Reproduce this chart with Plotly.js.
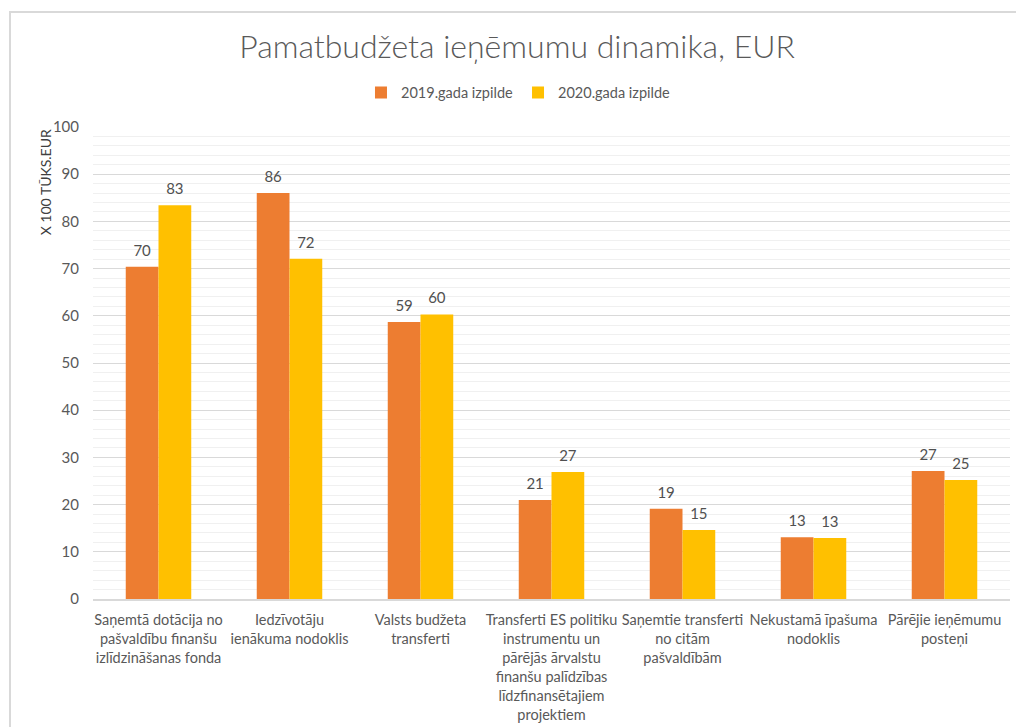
<!DOCTYPE html>
<html>
<head>
<meta charset="utf-8">
<script src="https://cdn.plot.ly/plotly-3.0.1.min.js"></script>
<style>
  html, body { margin: 0; padding: 0; background: #fff; }
  #chart { width: 1016px; height: 727px; }
  #frame { position: absolute; left: 9px; top: 11px; width: 1020px; height: 730px;
           border-left: 2px solid #d9d9d9; border-top: 2px solid #d9d9d9; pointer-events: none; }
</style>
</head>
<body>
<div id="chart"></div>
<div id="frame"></div>
<script>
const categories = [
  "Saņemtā dotācija no<br>pašvaldību finanšu<br>izlīdzināšanas fonda",
  "Iedzīvotāju<br>ienākuma nodoklis",
  "Valsts budžeta<br>transferti",
  "Transferti ES politiku<br>instrumentu un<br>pārējās ārvalstu<br>finanšu palīdzības<br>līdzfinansētajiem<br>projektiem",
  "Saņemtie transferti<br>no citām<br>pašvaldībām",
  "Nekustamā īpašuma<br>nodoklis",
  "Pārējie ieņēmumu<br>posteņi"
];
const seriesNames = ["2019.gada izpilde", "2020.gada izpilde"];
const values2019 = [70.4, 86.0, 58.7, 21.0, 19.1, 13.1, 27.1];
const values2020 = [83.4, 72.1, 60.3, 26.9, 14.6, 12.9, 25.2];
const labels2019 = ["70", "86", "59", "21", "19", "13", "27"];
const labels2020 = ["83", "72", "60", "27", "15", "13", "25"];
const yTickVals = [0, 10, 20, 30, 40, 50, 60, 70, 80, 90, 100];

const FONT = "Lato, 'Open Sans', sans-serif";
const LABEL_FONT = { family: FONT, size: 15, weight: 400, color: "#505050" };

const traces = [
  { type: "bar", name: seriesNames[0], x: categories, y: values2019, offsetgroup: "a",
    marker: { color: "#ED7D31" }, hoverinfo: "skip" },
  { type: "bar", name: seriesNames[1], x: categories, y: values2020, offsetgroup: "b",
    marker: { color: "#FFC000" }, hoverinfo: "skip" },
  { type: "scatter", mode: "markers+text", x: categories, y: values2019, text: labels2019,
    textposition: "top center", textfont: LABEL_FONT, offsetgroup: "a",
    marker: { size: 10, opacity: 0 }, showlegend: false, cliponaxis: false, hoverinfo: "skip" },
  { type: "scatter", mode: "markers+text", x: categories, y: values2020, text: labels2020,
    textposition: "top center", textfont: LABEL_FONT, offsetgroup: "b",
    marker: { size: 10, opacity: 0 }, showlegend: false, cliponaxis: false, hoverinfo: "skip" }
];

const layout = {
  width: 1016, height: 727,
  paper_bgcolor: "#ffffff", plot_bgcolor: "#ffffff",
  margin: { l: 93, r: 6, t: 127, b: 128 },
  font: { family: FONT, color: "#595959" },
  title: { text: "Pamatbudžeta ieņēmumu dinamika, EUR",
           font: { family: FONT, size: 32, weight: 300, color: "#595959" },
           x: 0.509, xanchor: "center", y: 0.935, yanchor: "middle" },
  barmode: "group", bargap: 0.5, bargroupgap: 0,
  scattermode: "group", scattergap: 0.5,
  showlegend: true,
  legend: { orientation: "h", x: 0.464, xanchor: "center", y: 1.073, yanchor: "middle",
            font: { family: FONT, size: 14.5, color: "#595959" }, itemwidth: 30, tracegroupgap: 0 },
  xaxis: { type: "category", tickfont: { family: FONT, size: 14.5, color: "#595959" },
           showgrid: false, showline: true, linecolor: "#d9d9d9", linewidth: 2,
           ticks: "", tickangle: 0, ticklabelstandoff: 7, automargin: false },
  yaxis: { range: [0, 100], tickvals: yTickVals, ticktext: yTickVals.map(String),
           tickfont: { family: FONT, size: 15, color: "#595959" },
           showgrid: true, gridcolor: "#d9d9d9", gridwidth: 1,
           minor: { dtick: 2, showgrid: true, gridcolor: "#f0f0f0", gridwidth: 1 },
           zeroline: false, ticks: "", ticklen: 0, ticklabelstandoff: 13, automargin: false },
  annotations: [
    { text: "X 100 TŪKS.EUR", xref: "paper", yref: "paper", x: -0.052, y: 1.0,
      xanchor: "center", yanchor: "top", textangle: -90, showarrow: false,
      font: { family: FONT, size: 14, color: "#404040" } }
  ]
};

Plotly.newPlot("chart", traces, layout, { displayModeBar: false, staticPlot: true });
</script>
</body>
</html>
